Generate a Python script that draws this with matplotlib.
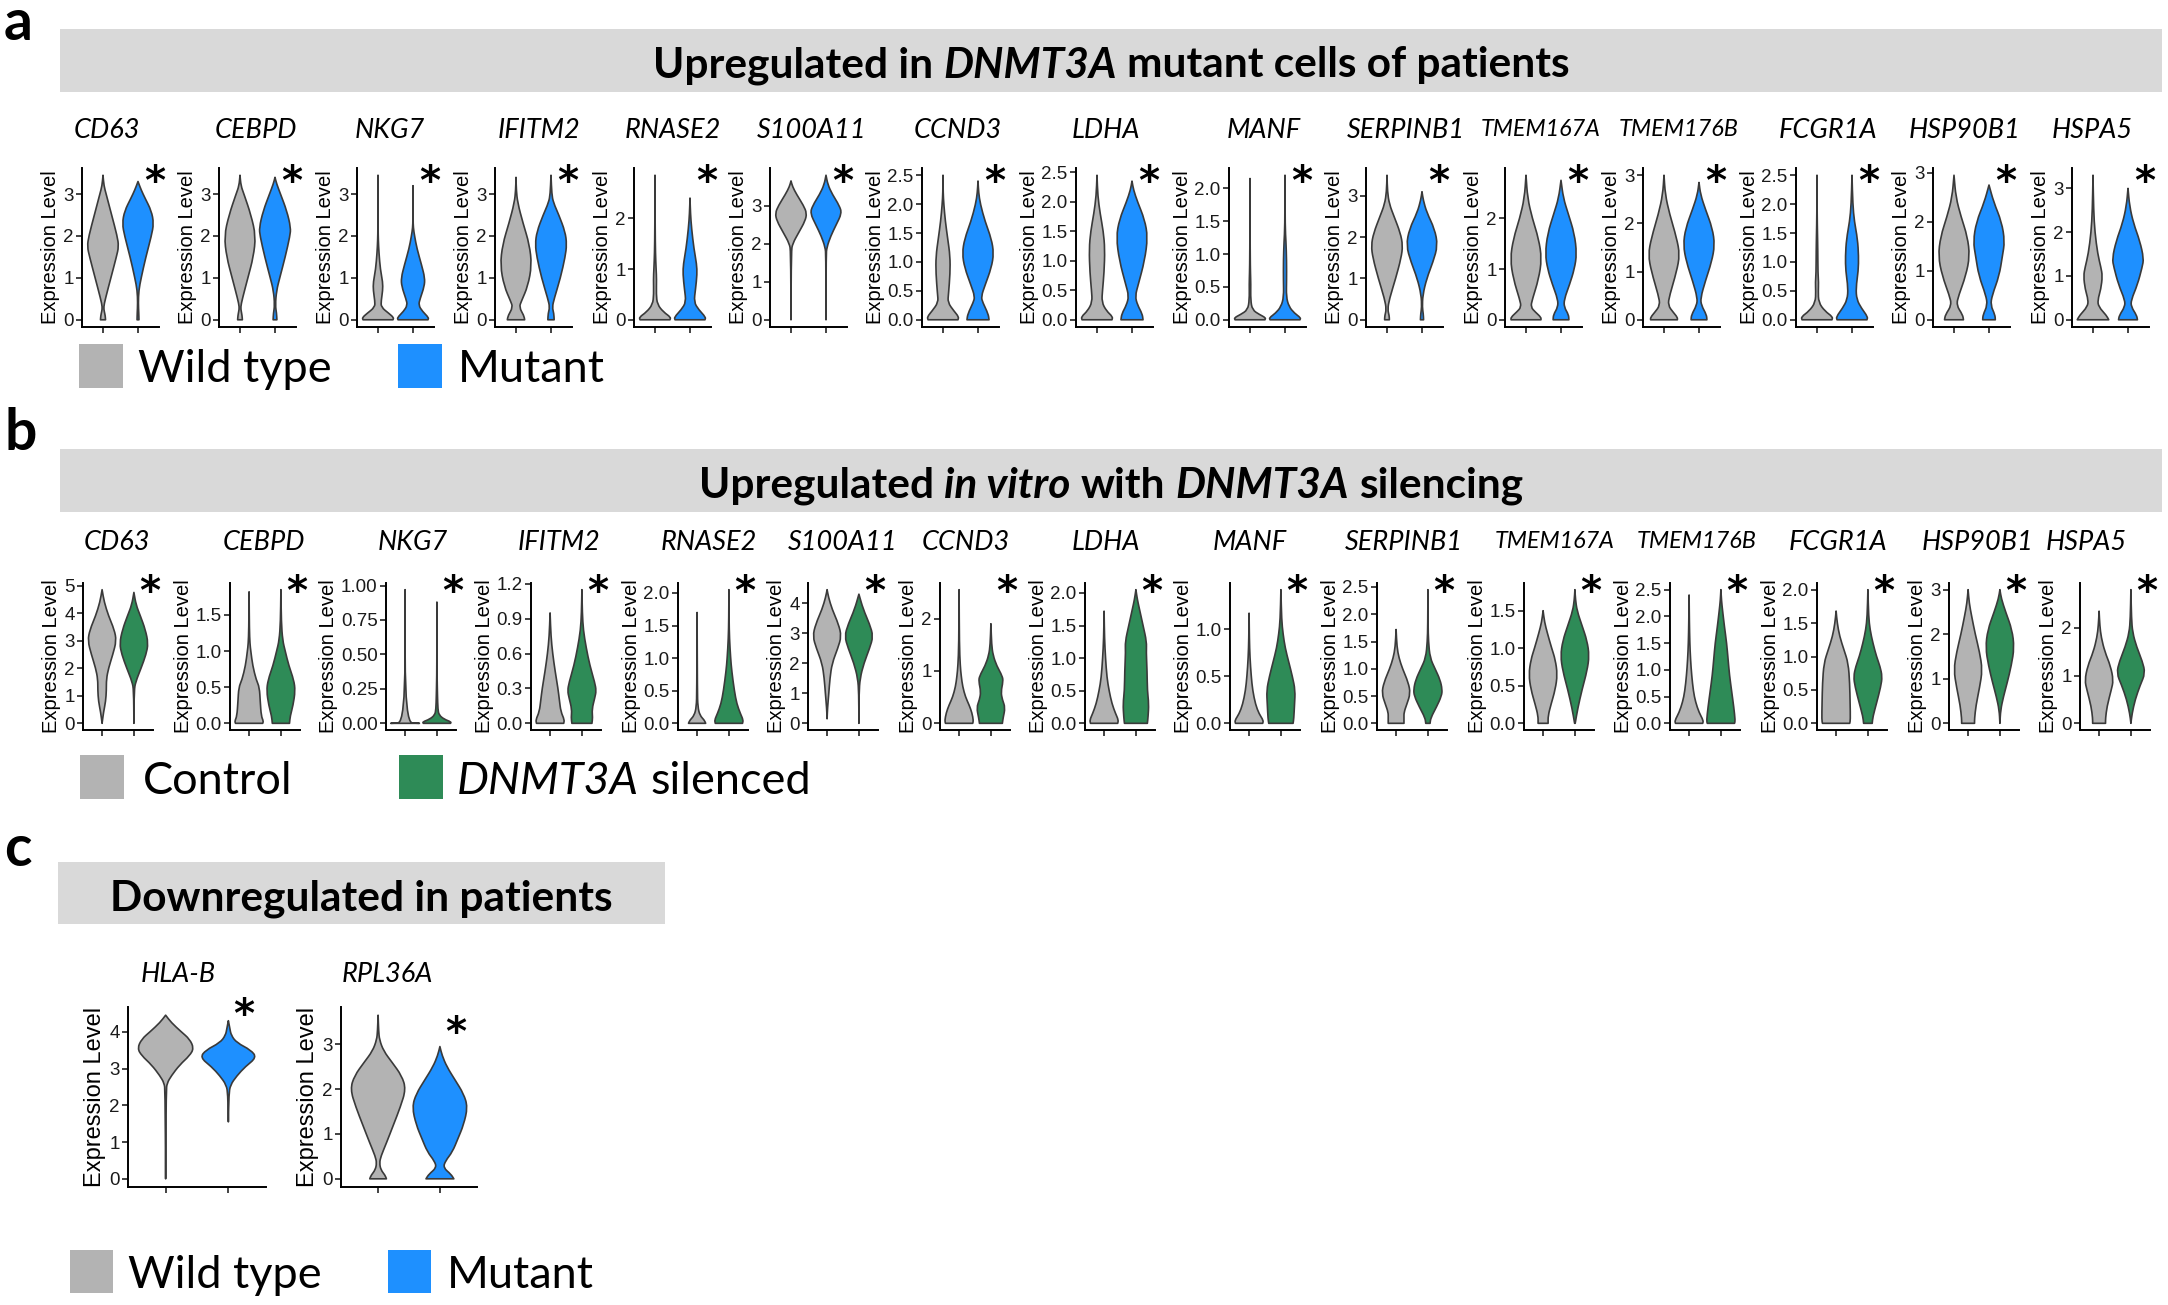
import matplotlib
matplotlib.use("Agg")
import matplotlib.pyplot as plt
from matplotlib.path import Path
from matplotlib.patches import PathPatch, Rectangle
from matplotlib import font_manager as fm

# ------------------------------------------------------------------ data
GENES = ["CD63", "CEBPD", "NKG7", "IFITM2", "RNASE2", "S100A11", "CCND3", "LDHA",
         "MANF", "SERPINB1", "TMEM167A", "TMEM176B", "FCGR1A", "HSP90B1", "HSPA5"]

A_TICKS = [["0", "1", "2", "3"], ["0", "1", "2", "3"], ["0", "1", "2", "3"], ["0", "1", "2", "3"],
           ["0", "1", "2"], ["0", "1", "2", "3"],
           ["0.0", "0.5", "1.0", "1.5", "2.0", "2.5"], ["0.0", "0.5", "1.0", "1.5", "2.0", "2.5"],
           ["0.0", "0.5", "1.0", "1.5", "2.0"], ["0", "1", "2", "3"], ["0", "1", "2"],
           ["0", "1", "2", "3"], ["0.0", "0.5", "1.0", "1.5", "2.0", "2.5"],
           ["0", "1", "2", "3"], ["0", "1", "2", "3"]]

B_TICKS = [["0", "1", "2", "3", "4", "5"], ["0.0", "0.5", "1.0", "1.5"],
           ["0.00", "0.25", "0.50", "0.75", "1.00"], ["0.0", "0.3", "0.6", "0.9", "1.2"],
           ["0.0", "0.5", "1.0", "1.5", "2.0"], ["0", "1", "2", "3", "4"], ["0", "1", "2"],
           ["0.0", "0.5", "1.0", "1.5", "2.0"], ["0.0", "0.5", "1.0"],
           ["0.0", "0.5", "1.0", "1.5", "2.0", "2.5"], ["0.0", "0.5", "1.0", "1.5"],
           ["0.0", "0.5", "1.0", "1.5", "2.0", "2.5"], ["0.0", "0.5", "1.0", "1.5", "2.0"],
           ["0", "1", "2", "3"], ["0", "1", "2"]]

# violin profiles: (expression level, relative half width)
A_WT = [
    [(0, .16), (.1, .14), (.2, .08), (.3, .04), (.5, .15), (1.0, .5), (1.5, .85), (1.75, 1.0), (2.0, .9), (2.5, .55), (3.0, .2), (3.2, .06), (3.45, 0)],
    [(0, .15), (.1, .13), (.2, .08), (.3, .04), (.5, .15), (1.0, .5), (1.5, .85), (2.0, 1.0), (2.5, .7), (3.0, .25), (3.2, .06), (3.45, 0)],
    [(0, .95), (.05, 1.0), (.15, .7), (.3, .2), (.45, .2), (.7, .3), (.9, .3), (1.2, .15), (1.6, .06), (1.9, .02), (2.2, .005), (3.45, 0)],
    [(0, .55), (.1, .5), (.3, .2), (.45, .35), (.8, .75), (1.3, 1.0), (1.8, .85), (2.3, .45), (2.8, .1), (3.1, .02), (3.4, 0)],
    [(0, .95), (.05, 1.0), (.15, .55), (.3, .15), (.5, .08), (.8, .1), (1.0, .07), (1.3, .03), (1.8, .01), (2.85, 0)],
    [(0, 0), (1.8, .02), (2.0, .1), (2.3, .5), (2.6, .9), (2.8, 1.0), (3.0, .8), (3.3, .35), (3.5, .1), (3.65, 0)],
    [(0, .95), (.05, 1.0), (.15, .7), (.3, .3), (.45, .35), (.8, .45), (1.1, .45), (1.4, .3), (1.7, .15), (2.0, .05), (2.2, .01), (2.5, 0)],
    [(0, .95), (.05, 1.0), (.15, .6), (.3, .3), (.5, .35), (.8, .45), (1.2, .5), (1.5, .4), (1.8, .2), (2.1, .05), (2.45, 0)],
    [(0, .95), (.03, 1.0), (.08, .6), (.15, .15), (.3, .04), (.55, .05), (.7, .03), (1.0, .01), (2.15, 0)],
    [(0, .15), (.1, .14), (.25, .04), (.5, .15), (1.0, .55), (1.5, .9), (1.8, 1.0), (2.1, .85), (2.5, .45), (2.8, .15), (3.1, .03), (3.5, 0)],
    [(0, .95), (.05, .95), (.15, .6), (.25, .3), (.4, .4), (.8, .8), (1.2, 1.0), (1.6, .8), (2.0, .4), (2.4, .1), (2.85, 0)],
    [(0, .85), (.05, .85), (.15, .6), (.3, .25), (.5, .35), (1.0, .8), (1.35, 1.0), (1.7, .8), (2.2, .35), (2.6, .08), (3.0, 0)],
    [(0, .95), (.05, 1.0), (.15, .5), (.3, .1), (.5, .08), (.65, .1), (.8, .06), (1.2, .05), (1.5, .03), (1.8, .01), (2.5, 0)],
    [(0, .6), (.1, .55), (.3, .15), (.5, .3), (.9, .75), (1.3, 1.0), (1.7, .85), (2.1, .45), (2.5, .12), (2.95, 0)],
    [(0, 1.0), (.1, .85), (.3, .35), (.45, .3), (.7, .5), (1.0, .6), (1.2, .5), (1.5, .3), (2.0, .12), (2.5, .04), (3.3, 0)],
]
A_MUT = [
    [(0, .06), (.15, .05), (.4, .02), (.7, .05), (1.0, .2), (1.5, .5), (2.0, .85), (2.3, 1.0), (2.6, .85), (2.9, .45), (3.1, .2), (3.3, 0)],
    [(0, .12), (.15, .1), (.35, .02), (.7, .1), (1.0, .3), (1.5, .65), (2.0, .95), (2.2, 1.0), (2.6, .75), (3.0, .35), (3.25, .1), (3.4, 0)],
    [(0, .95), (.05, 1.0), (.2, .6), (.35, .35), (.5, .45), (.8, .72), (1.0, .75), (1.3, .55), (1.7, .25), (2.0, .1), (2.2, .02), (2.4, .005), (3.2, 0)],
    [(0, .2), (.15, .18), (.3, .08), (.5, .2), (1.0, .6), (1.5, .9), (1.8, 1.0), (2.1, .9), (2.5, .5), (2.8, .15), (3.0, .05), (3.45, 0)],
    [(0, .95), (.05, 1.0), (.2, .55), (.35, .25), (.6, .35), (.9, .45), (1.1, .42), (1.4, .25), (1.8, .1), (2.1, .03), (2.4, 0)],
    [(0, 0), (1.7, .01), (1.9, .05), (2.2, .3), (2.5, .65), (2.8, 1.0), (3.0, .85), (3.3, .4), (3.55, .12), (3.8, 0)],
    [(0, .7), (.1, .65), (.3, .3), (.4, .2), (.6, .45), (.9, .85), (1.15, 1.0), (1.4, .85), (1.7, .45), (2.0, .15), (2.2, .04), (2.4, 0)],
    [(0, .7), (.1, .65), (.25, .35), (.4, .2), (.6, .4), (1.0, .8), (1.4, 1.0), (1.7, .8), (2.0, .35), (2.2, .1), (2.35, 0)],
    [(0, .95), (.03, 1.0), (.1, .6), (.2, .25), (.35, .08), (.6, .1), (.9, .1), (1.2, .06), (1.4, .01), (2.2, 0)],
    [(0, .1), (.15, .08), (.3, .02), (.6, .05), (1.0, .3), (1.4, .7), (1.8, 1.0), (2.2, .8), (2.6, .3), (2.9, .08), (3.1, 0)],
    [(0, .5), (.1, .48), (.25, .2), (.4, .2), (.7, .55), (1.0, .85), (1.3, 1.0), (1.7, .85), (2.1, .45), (2.4, .15), (2.75, 0)],
    [(0, .5), (.1, .48), (.3, .15), (.45, .1), (.8, .4), (1.2, .8), (1.55, 1.0), (1.9, .85), (2.3, .4), (2.6, .1), (2.85, 0)],
    [(0, .95), (.05, 1.0), (.2, .6), (.35, .3), (.55, .25), (.85, .4), (1.1, .42), (1.4, .35), (1.7, .15), (2.0, .05), (2.5, 0)],
    [(0, .4), (.1, .38), (.3, .1), (.5, .2), (.9, .65), (1.3, .85), (1.6, 1.0), (2.0, .8), (2.4, .3), (2.75, 0)],
    [(0, .6), (.1, .55), (.3, .2), (.45, .2), (.8, .6), (1.2, .9), (1.4, 1.0), (1.8, .75), (2.2, .35), (2.6, .1), (3.0, 0)],
]
B_CTRL = [
    [(0, 0), (.4, .1), (.8, .25), (1.2, .3), (1.6, .3), (2.0, .45), (2.5, .75), (3.0, 1.0), (3.4, .85), (3.9, .45), (4.4, .15), (4.85, 0)],
    [(0, .95), (.03, 1.0), (.1, .85), (.3, .78), (.5, .72), (.6, .5), (.8, .25), (1.0, .12), (1.1, .06), (1.3, .02), (1.82, 0)],
    [(0, 1.0), (.004, .01), (.97, 0)],
    [(0, .95), (.03, 1.0), (.1, .75), (.2, .65), (.3, .55), (.45, .35), (.6, .18), (.75, .06), (.95, 0)],
    [(0, .6), (.05, .5), (.12, .2), (.25, .05), (.5, .02), (1.7, 0)],
    [(.15, 0), (.5, .03), (1.0, .12), (1.5, .2), (2.0, .35), (2.5, .75), (2.9, 1.0), (3.3, .8), (3.8, .35), (4.2, .1), (4.45, 0)],
    [(0, .95), (.05, 1.0), (.2, .9), (.35, .7), (.5, .45), (.7, .25), (.9, .15), (1.1, .08), (1.5, .02), (2.55, 0)],
    [(0, .95), (.05, 1.0), (.15, .8), (.3, .55), (.5, .35), (.7, .2), (1.0, .1), (1.3, .03), (1.72, 0)],
    [(0, .95), (.03, 1.0), (.1, .7), (.2, .45), (.35, .25), (.5, .15), (.7, .06), (.9, .02), (1.17, 0)],
    [(0, .55), (.1, .55), (.2, .55), (.35, .75), (.55, 1.0), (.75, .85), (1.0, .45), (1.2, .2), (1.4, .06), (1.72, 0)],
    [(0, .35), (.1, .35), (.25, .55), (.45, .85), (.65, 1.0), (.85, .85), (1.0, .6), (1.2, .3), (1.35, .1), (1.5, 0)],
    [(0, .95), (.05, 1.0), (.2, .7), (.4, .45), (.6, .3), (.9, .18), (1.2, .1), (1.5, .05), (1.9, .02), (2.4, 0)],
    [(0, .95), (.05, 1.0), (.3, .98), (.6, .95), (.9, .85), (1.1, .55), (1.3, .25), (1.5, .08), (1.68, 0)],
    [(0, .45), (.1, .45), (.4, .55), (.8, .8), (1.2, 1.0), (1.6, .8), (2.0, .5), (2.4, .25), (2.7, .08), (3.0, 0)],
    [(0, .45), (.1, .45), (.35, .55), (.7, .85), (.9, 1.0), (1.2, .8), (1.5, .4), (1.8, .15), (2.05, .05), (2.35, 0)],
]
B_SIL = [
    [(0, 0), (1.2, .02), (1.5, .12), (2.0, .5), (2.5, .85), (2.9, 1.0), (3.4, .8), (3.9, .45), (4.3, .15), (4.75, 0)],
    [(0, .6), (.1, .65), (.25, .85), (.45, 1.0), (.6, .9), (.8, .55), (1.0, .3), (1.15, .12), (1.4, .03), (1.85, 0)],
    [(0, .95), (.01, 1.0), (.03, .5), (.06, .15), (.1, .07), (.2, .04), (.3, .02), (.4, .005), (.88, 0)],
    [(0, .7), (.05, .75), (.12, .7), (.22, .9), (.28, 1.0), (.35, .9), (.5, .55), (.65, .3), (.8, .1), (.95, .03), (1.15, 0)],
    [(0, .95), (.05, 1.0), (.15, .8), (.3, .55), (.5, .38), (.8, .2), (1.0, .12), (1.3, .04), (1.6, .01), (2.05, 0)],
    [(0, 0), (1.0, .01), (1.5, .08), (2.0, .35), (2.5, .75), (2.9, 1.0), (3.3, .75), (3.8, .3), (4.3, 0)],
    [(0, .8), (.1, .85), (.3, 1.0), (.45, .8), (.6, .7), (.8, .85), (.9, .8), (1.1, .4), (1.3, .15), (1.5, .05), (1.9, 0)],
    [(0, .8), (.1, .85), (.3, .9), (.5, .8), (.8, .78), (1.1, .72), (1.25, .75), (1.5, .5), (1.75, .25), (1.9, .1), (2.05, 0)],
    [(0, .85), (.05, .9), (.2, .95), (.35, 1.0), (.5, .8), (.65, .55), (.8, .3), (.95, .15), (1.1, .05), (1.42, 0)],
    [(0, .15), (.1, .2), (.3, .6), (.5, .95), (.62, 1.0), (.8, .85), (1.0, .5), (1.2, .15), (1.5, .04), (1.8, .01), (2.45, 0)],
    [(0, .02), (.2, .2), (.45, .5), (.7, .85), (.9, 1.0), (1.1, .85), (1.3, .5), (1.5, .15), (1.65, .04), (1.78, 0)],
    [(0, .95), (.05, 1.0), (.3, .9), (.6, .75), (.9, .6), (1.2, .5), (1.5, .4), (1.8, .25), (2.1, .12), (2.3, .04), (2.5, 0)],
    [(0, .3), (.1, .35), (.3, .6), (.55, .9), (.7, 1.0), (.85, .85), (1.0, .6), (1.2, .35), (1.4, .15), (1.6, .05), (2.0, 0)],
    [(0, 0), (.3, .05), (.6, .25), (.9, .5), (1.3, .8), (1.7, 1.0), (2.1, .85), (2.5, .4), (2.8, .1), (3.0, 0)],
    [(0, 0), (.2, .08), (.5, .3), (.8, .65), (1.05, 1.0), (1.3, .8), (1.6, .4), (1.9, .12), (2.2, .04), (2.8, 0)],
]

C_GENES = ["HLA-B", "RPL36A"]
C_TICKS = [["0", "1", "2", "3", "4"], ["0", "1", "2", "3"]]
C_WT = [
    [(0, 0), (2.4, .02), (2.6, .05), (2.8, .2), (3.1, .5), (3.35, .85), (3.55, 1.0), (3.8, .85), (4.0, .55), (4.25, .2), (4.45, 0)],
    [(0, .3), (.08, .25), (.2, .1), (.35, .05), (.5, .1), (.8, .3), (1.2, .55), (1.6, .8), (2.0, 1.0), (2.3, .85), (2.6, .5), (2.85, .2), (3.1, .05), (3.3, .02), (3.65, 0)],
]
C_MUT = [
    [(1.55, 0), (2.3, .02), (2.55, .07), (2.8, .3), (3.05, .6), (3.3, 1.0), (3.5, .8), (3.7, .3), (3.9, .1), (4.1, .05), (4.3, 0)],
    [(0, .5), (.1, .4), (.25, .12), (.4, .2), (.6, .45), (.9, .65), (1.2, .85), (1.6, 1.0), (1.9, .85), (2.2, .55), (2.5, .25), (2.75, .08), (2.95, 0)],
]
C_STAR_Y = [4.43, 3.22]

# ------------------------------------------------------------------ style / layout
W, H = 2168, 1305
GRAY, BLUE, GREEN = "#B3B3B3", "#1E90FF", "#2E8B57"
EDGE = "#3A3A3A"
BANNER = "#D9D9D9"

A_LEFT = [82, 219, 357, 495, 634, 770, 922, 1076, 1229, 1366, 1505, 1643, 1796, 1933, 2072]
A_LAB = [107, 256, 390, 539, 673, 812, 958, 1106, 1264, 1406, 1541, 1679, 1828, 1965, 2092]
B_LEFT = [83, 230, 386, 531, 678, 808, 940, 1085, 1230, 1377, 1524, 1670, 1817, 1949, 2080]
B_LAB = [117, 264, 413, 559, 709, 843, 966, 1106, 1250, 1404, 1555, 1697, 1838, 1978, 2086]
C_LEFT, C_WID, C_LAB = [128, 341], [138, 136], [178, 387]
LAB_MAXW = 120


def has_font(name):
    try:
        fm.findfont(fm.FontProperties(family=name), fallback_to_default=False)
        return True
    except Exception:
        return False


if has_font("Liberation Sans Narrow"):
    TICKFONT = dict(family="Liberation Sans Narrow", size=15.5)
else:
    TICKFONT = dict(family="Liberation Sans", size=13.5)
LABFONT = "Lato" if has_font("Lato") else "DejaVu Sans"

fig = plt.figure(figsize=(W / 100, H / 100), dpi=100)
ov = fig.add_axes([0, 0, 1, 1])
ov.set_xlim(0, W)
ov.set_ylim(H, 0)
ov.axis("off")
RENDERER = fig.canvas.get_renderer()


def violin_patch(center, prof, color, hw=0.45):
    right = [(center + w * hw, y) for y, w in prof]
    left = [(center - w * hw, y) for y, w in reversed(prof)]
    verts, codes = [], []

    def smooth(pts, first):
        verts.append(pts[0]); codes.append(Path.MOVETO if first else Path.LINETO)
        if len(pts) == 2:
            verts.append(pts[1]); codes.append(Path.LINETO)
            return
        mid = lambda a, b: ((a[0] + b[0]) / 2, (a[1] + b[1]) / 2)
        verts.append(mid(pts[0], pts[1])); codes.append(Path.LINETO)
        for i in range(1, len(pts) - 1):
            verts.extend([pts[i], mid(pts[i], pts[i + 1])])
            codes.extend([Path.CURVE3, Path.CURVE3])
        verts.append(pts[-1]); codes.append(Path.LINETO)

    smooth(right, True)
    smooth(left, False)
    verts.append(right[0]); codes.append(Path.CLOSEPOLY)
    return PathPatch(Path(verts, codes), facecolor=color, edgecolor=EDGE, lw=1.2, joinstyle="round")


def small_panel(left, top, width, height, ticks, prof1, prof2, c2, star_xy=None, star_data=None,
                ylab_size=14.5):
    ax = fig.add_axes([left / W, 1 - (top + height) / H, width / W, height / H])
    ax.add_patch(violin_patch(1, prof1, GRAY))
    ax.add_patch(violin_patch(2, prof2, c2))
    top_val = max(max(p[0] for p in prof1), max(p[0] for p in prof2))
    ax.set_xlim(0.4, 2.6)
    ax.set_ylim(-0.05 * top_val, 1.05 * top_val)
    ax.set_xticks([1, 2])
    ax.set_xticklabels([])
    ax.set_yticks([float(t) for t in ticks])
    ax.set_yticklabels(ticks, fontdict=TICKFONT, color="#1A1A1A")
    for s in ("top", "right"):
        ax.spines[s].set_visible(False)
    for s in ("left", "bottom"):
        ax.spines[s].set_linewidth(1.4)
    ax.tick_params(length=4, width=1.2, pad=2, color="#222222")
    ax.set_ylabel("Expression Level", family="Liberation Sans", size=ylab_size, labelpad=2)
    ax.patch.set_alpha(0)
    if star_xy is not None:
        ax.text(star_xy[0], star_xy[1], "*", transform=ax.transAxes, ha="center", va="center",
                fontsize=29, family="DejaVu Sans", weight="bold")
    if star_data is not None:
        ax.text(star_data[0], star_data[1], "*", ha="center", va="center",
                fontsize=29, family="DejaVu Sans", weight="bold")
    return ax


def gene_label(x, y, g, size=19.5):
    t = ov.text(x, y, g, family=LABFONT, style="italic", fontsize=size, ha="center", va="center")
    w = t.get_window_extent(RENDERER).width
    if w > LAB_MAXW:
        t.set_fontsize(size * LAB_MAXW / w)
    return t


def rich(x, y, pieces, size, ha="center", weight="normal"):
    widths = []
    for s, st in pieces:
        t = ov.text(0, 0, s, family=LABFONT, style=st, weight=weight, fontsize=size)
        widths.append(t.get_window_extent(RENDERER).width)
        t.remove()
    t1 = ov.text(0, 0, "n n", family=LABFONT, weight=weight, fontsize=size)
    t2 = ov.text(0, 0, "nn", family=LABFONT, weight=weight, fontsize=size)
    sp = t1.get_window_extent(RENDERER).width - t2.get_window_extent(RENDERER).width
    t1.remove(); t2.remove()
    total = sum(widths) + sp * (len(pieces) - 1)
    cx = x - total / 2 if ha == "center" else x
    for (s, st), wdt in zip(pieces, widths):
        ov.text(cx, y, s, family=LABFONT, style=st, weight=weight, fontsize=size,
                ha="left", va="center_baseline")
        cx += wdt + sp


def banner(x0, x1, y0, y1):
    ov.add_patch(Rectangle((x0, y0), x1 - x0, y1 - y0, facecolor=BANNER, edgecolor="none"))


def legend(y0, y1, x_sq1, x_t1, lab1, x_sq2, x_t2, pieces2, c2):
    s = y1 - y0
    ov.add_patch(Rectangle((x_sq1, y0), s, s, facecolor=GRAY, edgecolor="none"))
    ov.add_patch(Rectangle((x_sq2, y0), s, s, facecolor=c2, edgecolor="none"))
    rich(x_t1, (y0 + y1) / 2, [(lab1, "normal")], 32.5, ha="left")
    rich(x_t2, (y0 + y1) / 2, pieces2, 32.5, ha="left")


# ------------------------------------------------------------------ panel letters and banners
for letter, yb in (("a", 40), ("b", 450), ("c", 866)):
    ov.text(4, yb, letter, family=LABFONT, weight="bold", fontsize=41, ha="left", va="baseline")

banner(60, 2162, 29, 92)
banner(60, 2162, 449, 512)
banner(58, 665, 862, 924)
rich(1111, 62, [("Upregulated in", "normal"), ("DNMT3A", "italic"),
                ("mutant cells of patients", "normal")], 30.5, weight="bold")
rich(1111, 482, [("Upregulated", "normal"), ("in vitro", "italic"), ("with", "normal"),
                 ("DNMT3A", "italic"), ("silencing", "normal")], 30.5, weight="bold")
rich(361, 895, [("Downregulated in patients", "normal")], 30.5, weight="bold")

# ------------------------------------------------------------------ panel a
for i, g in enumerate(GENES):
    small_panel(A_LEFT[i], 168, 77, 159, A_TICKS[i], A_WT[i], A_MUT[i], BLUE, star_xy=(0.95, 0.905))
    gene_label(A_LAB[i], 130, g)
legend(344, 388, 79, 138, "Wild type", 398, 458, [("Mutant", "normal")], BLUE)

# ------------------------------------------------------------------ panel b
for i, g in enumerate(GENES):
    small_panel(B_LEFT[i], 583, 70, 147, B_TICKS[i], B_CTRL[i], B_SIL[i], GREEN, star_xy=(0.95, 0.93))
    gene_label(B_LAB[i], 542, g)
legend(755, 799, 80, 143, "Control", 399, 457, [("DNMT3A", "italic"), ("silenced", "normal")], GREEN)

# ------------------------------------------------------------------ panel c
for i, g in enumerate(C_GENES):
    small_panel(C_LEFT[i], 1007, C_WID[i], 180, C_TICKS[i], C_WT[i], C_MUT[i], BLUE,
                star_data=(2.25, C_STAR_Y[i]), ylab_size=17)
    gene_label(C_LAB[i], 975, g)
legend(1250, 1293, 70, 128, "Wild type", 388, 447, [("Mutant", "normal")], BLUE)

fig.savefig("out.png", dpi=100, facecolor="white")
